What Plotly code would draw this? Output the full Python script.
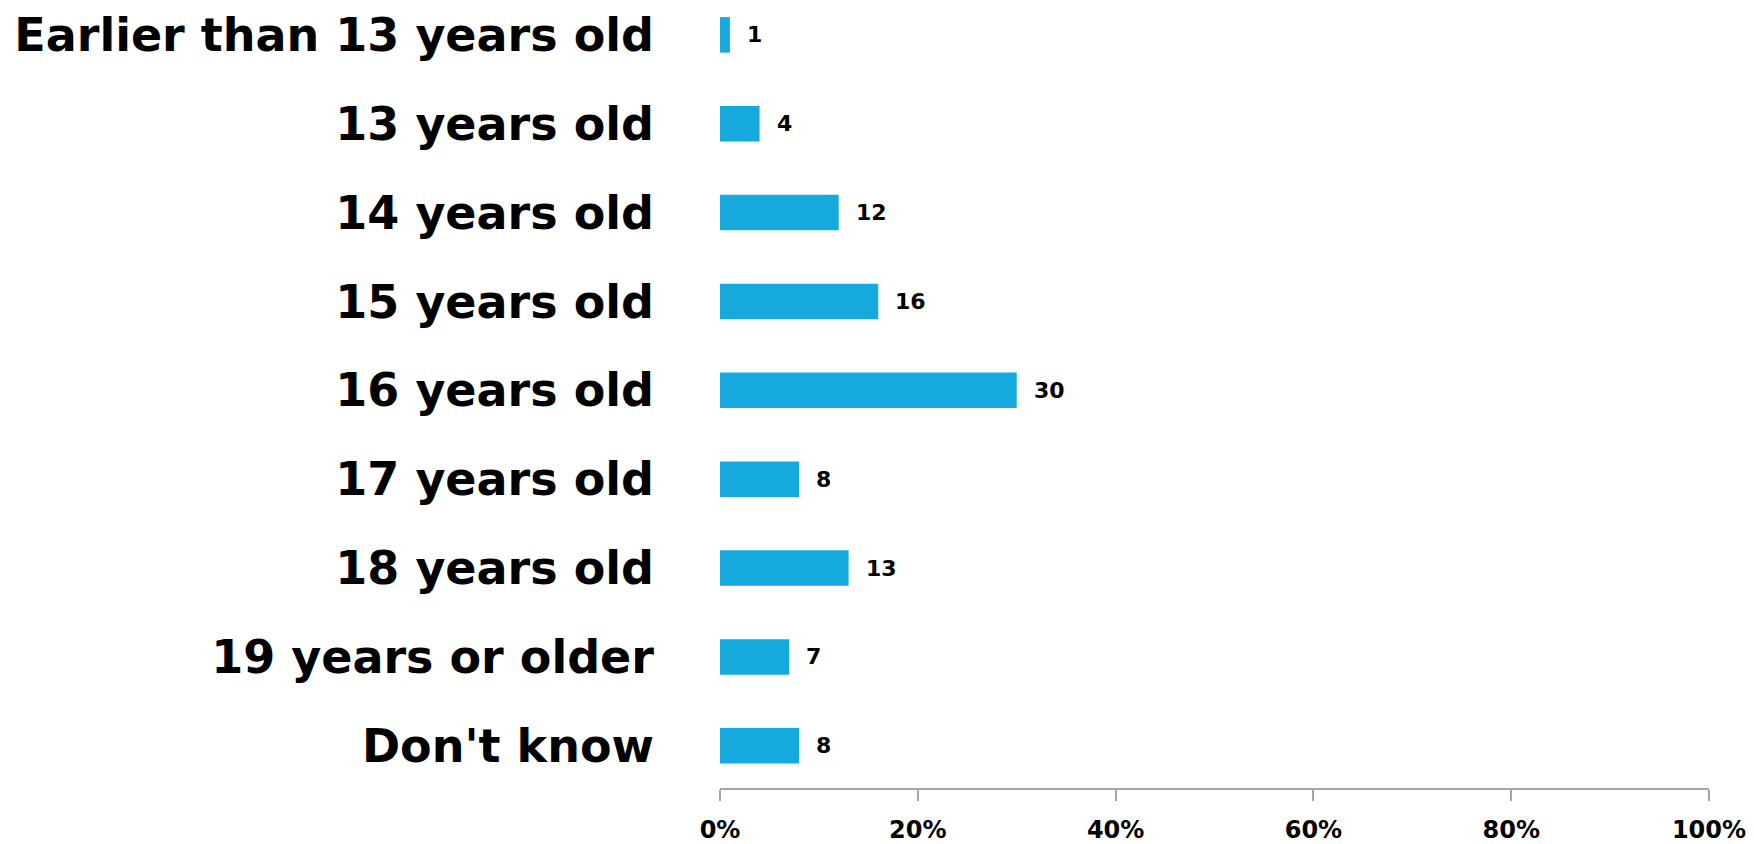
import plotly.graph_objects as go

categories = ["Earlier than 13 years old", "13 years old", "14 years old", "15 years old",
              "16 years old", "17 years old", "18 years old", "19 years or older", "Don't know"]
values = [1, 4, 12, 16, 30, 8, 13, 7, 8]
tick_vals = [0, 20, 40, 60, 80, 100]
tick_text = ["0%", "20%", "40%", "60%", "80%", "100%"]

BAR_COLOR = "#15A9DE"
FONT = "DejaVu Sans"

fig = go.Figure()
fig.add_trace(go.Bar(
    x=values, y=categories, orientation="h",
    marker=dict(color=BAR_COLOR, line=dict(width=0)),
    hoverinfo="skip",
))

for c, v in zip(categories, values):
    fig.add_annotation(
        x=v, y=c, xref="x", yref="y", text=f"<b>{v}</b>",
        showarrow=False, xanchor="left", yanchor="middle", xshift=15,
        font=dict(family=FONT, size=22, color="#000000"),
    )

# page body has a default 8px margin, so the figure is sized to fit inside it
fig.update_layout(
    width=1746, height=836,
    margin=dict(l=712, r=45, t=0, b=52),
    paper_bgcolor="white", plot_bgcolor="white",
    bargap=0.6, showlegend=False,
    font=dict(family=FONT, color="#000000"),
)
fig.update_xaxes(
    range=[0, 100], tickvals=tick_vals, ticktext=[f"<b>{t}</b>" for t in tick_text],
    showgrid=False, zeroline=False, showline=True, linecolor="#A6A6A6", linewidth=2,
    ticks="outside", ticklen=11, tickwidth=1.5, tickcolor="#A6A6A6",
    tickfont=dict(family=FONT, size=24, color="#000000"), ticklabelstandoff=8,
)
fig.update_yaxes(
    categoryorder="array", categoryarray=categories,
    range=[8.475, -0.291], showgrid=False, zeroline=False, showline=False,
    ticks="", tickvals=categories, ticktext=[f"<b>{c}</b>" for c in categories],
    tickfont=dict(family=FONT, size=46, color="#000000"), ticklabelstandoff=65,
)

fig.write_html("out.html")
